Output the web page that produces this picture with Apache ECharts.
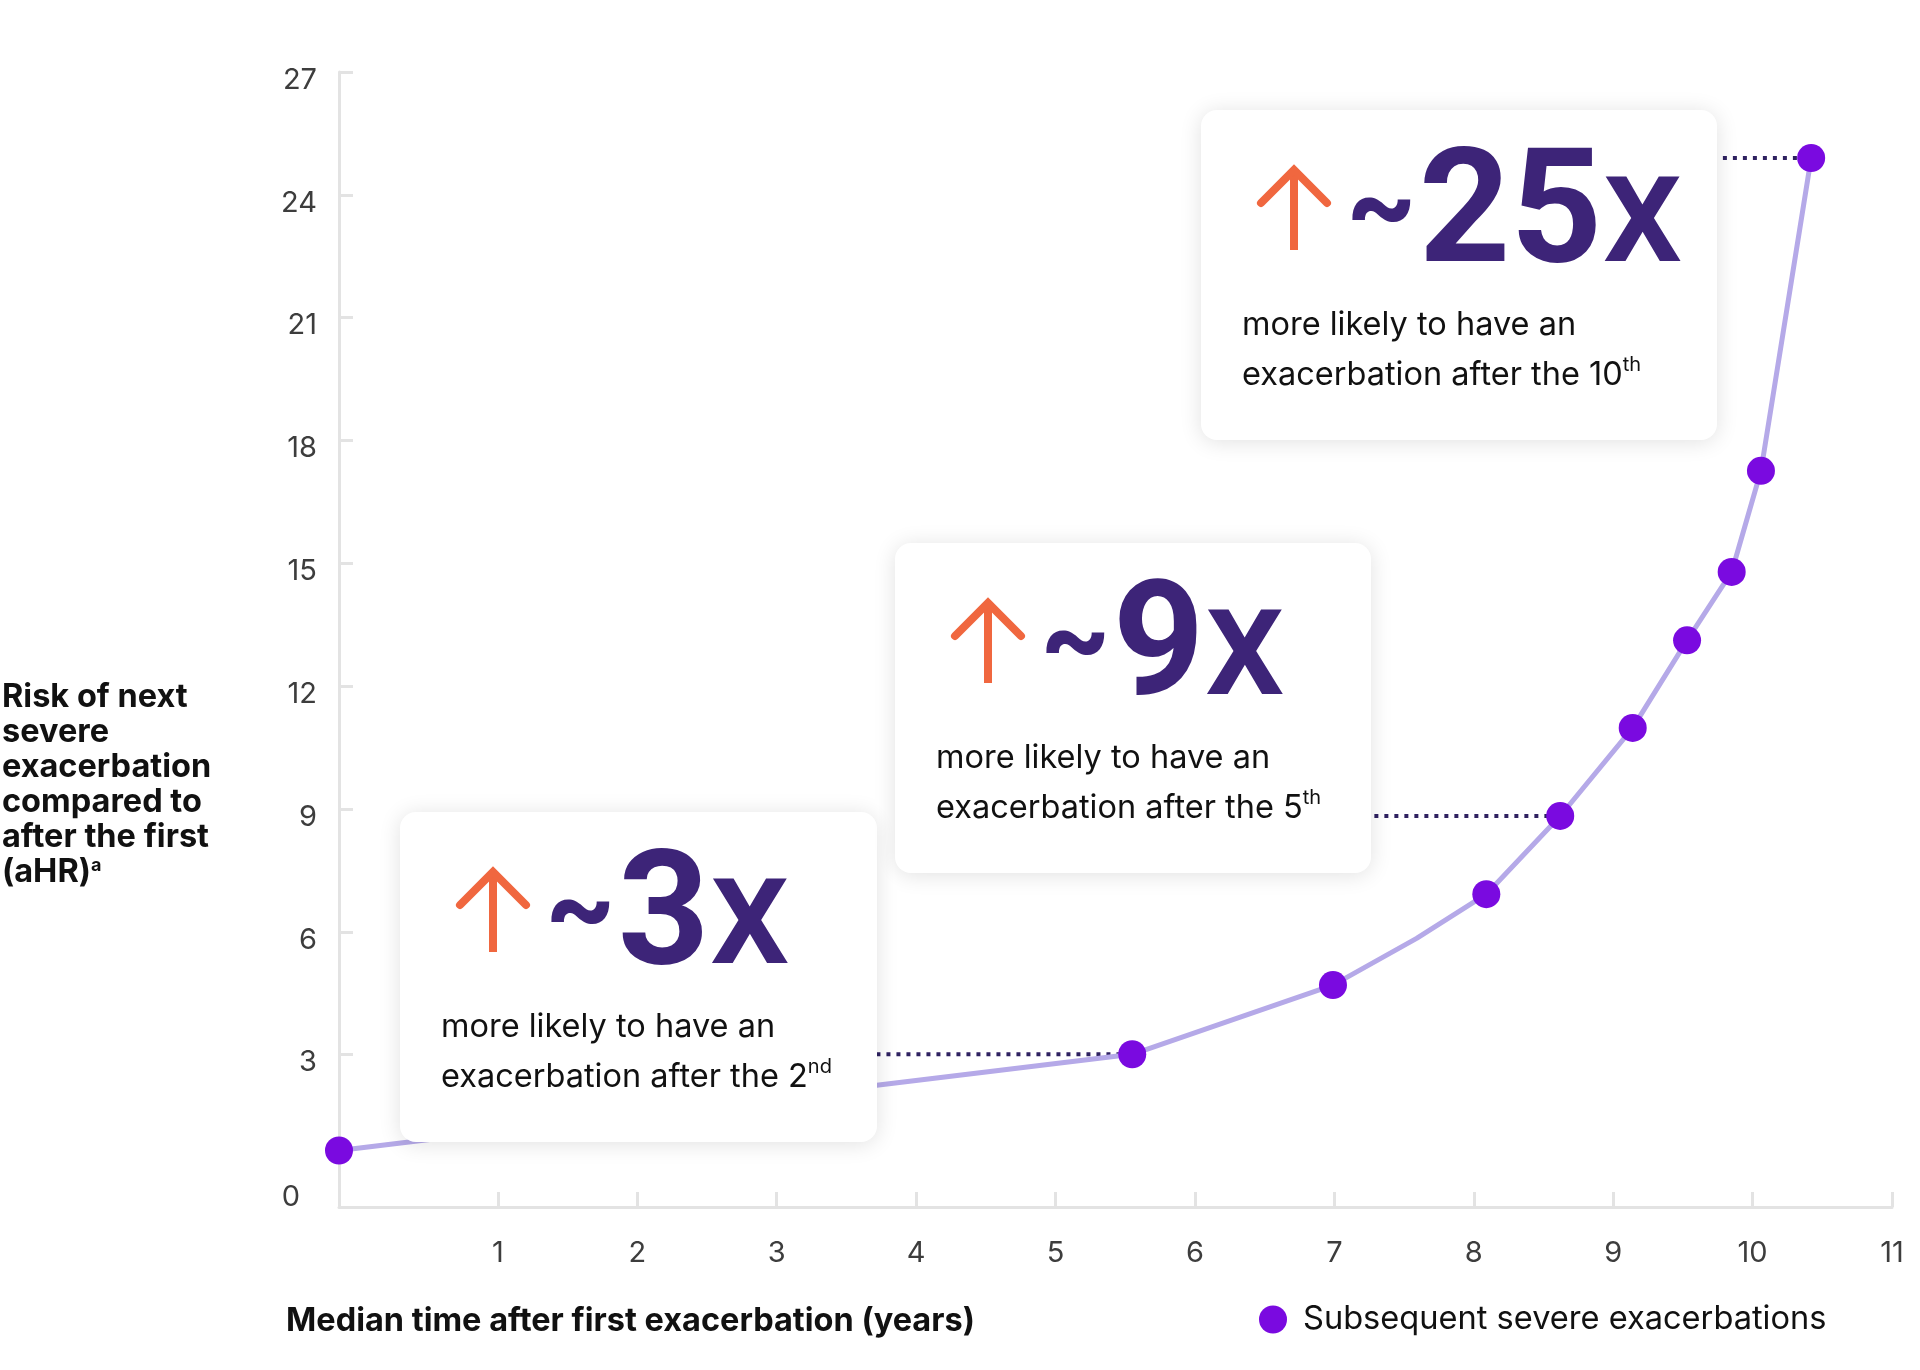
<!DOCTYPE html>
<html>
<head>
<meta charset="utf-8">
<script src="https://cdn.jsdelivr.net/npm/echarts@6/dist/echarts.min.js"></script>
<style>
    body {margin: 0; background: #fff;}
    #main_box {width: 1920px; height: 1370px;}
</style>
</head>
<body>
<div id="main_box"></div>
<script>
// exacerbation points: median years after first, aHR
let years = [-0.14, 5.55, 6.99, 7.59, 8.09, 8.62, 9.14, 9.53, 9.85, 10.06, 10.42];
let ahr = [0.66, 3.01, 4.70, 5.84, 6.92, 8.83, 10.98, 13.12, 14.79, 17.26, 24.9];
let hidden_vertex = [3];          // bend in the line with no marker
let x_ticks = [1, 2, 3, 4, 5, 6, 7, 8, 9, 10, 11];
let y_ticks = [3, 6, 9, 12, 15, 18, 21, 24, 27];
let y_labels = [0, 3, 6, 9, 12, 15, 18, 21, 24, 27];

// callouts: which point they point at, big number, ordinal
let callout_point = [1, 5, 10];
let callout_from = [3.5, 7.0, 9.5];
let callout_num = ['3', '9', '25'];
let callout_nth = ['2', '5', '10'];
let callout_sup = ['nd', 'th', 'th'];

let series_name = 'Subsequent severe exacerbations';

function make_callout(left, top, w, h, num, nth, sup) {
    return {
        type: 'group',
        left: left, top: top,
        children: [
            {
                type: 'rect', z: 100,
                shape: {x: 0, y: 0, width: w, height: h, r: 16},
                style: {fill: '#fff', shadowBlur: 22, shadowColor: 'rgba(0,0,0,0.12)', shadowOffsetY: 2}
            },
            {
                type: 'line', z: 101,
                shape: {x1: 93, y1: 62, x2: 93, y2: 140},
                style: {stroke: '#f0673f', lineWidth: 8}
            },
            {
                type: 'polyline', z: 101,
                shape: {points: [[60, 93], [93, 60], [126, 93]]},
                style: {stroke: '#f0673f', lineWidth: 8, lineCap: 'round', fill: null}
            },
            {
                type: 'text', z: 101,
                x: 143, y: 111,
                style: {
                    text: '{t|~}{n|' + num + '}{x|x}',
                    verticalAlign: 'middle',
                    rich: {
                        t: {fontFamily: 'Inter', fontWeight: 700, fontSize: 110, fill: '#3d2478', padding: [0, 0, 24, 0]},
                        n: {fontFamily: 'Roboto', fontWeight: 700, fontSize: 160, fill: '#3d2478'},
                        x: {fontFamily: 'Roboto', fontWeight: 500, fontSize: 160, fill: '#3d2478'}
                    }
                }
            },
            {
                type: 'text', z: 101,
                x: 41, y: 190,
                style: {
                    text: 'more likely to have an\nexacerbation after the ' + nth + '{s|' + sup + '}',
                    fontFamily: 'Inter', fontSize: 32.5, fill: '#111',
                    lineHeight: 50, verticalAlign: 'top',
                    rich: {
                        s: {fontFamily: 'Inter', fontSize: 20, fill: '#111', lineHeight: 50, padding: [0, 0, 20, 0]}
                    }
                }
            }
        ]
    };
}

function data_chart() {
    let points = years.map(function (x, i) {
        if (hidden_vertex.indexOf(i) >= 0) {
            return {value: [x, ahr[i]], symbol: 'none'};
        }
        return [x, ahr[i]];
    });

    let connectors = callout_point.map(function (p, i) {
        return {
            type: 'line',
            silent: true,
            z: 1,
            symbol: 'none',
            clip: false,
            lineStyle: {color: '#2e2160', width: 4, type: [4, 6]},
            data: [[callout_from[i], ahr[p]], [years[p], ahr[p]]]
        };
    });

    let chart_box = echarts.init(document.getElementById('main_box'));
    let option = {
        animation: false,
        grid: {left: 339, right: 28, top: 72, bottom: 163},
        legend: {
            data: [series_name],
            icon: 'circle',
            itemWidth: 50, itemHeight: 28,
            left: 1254, top: 1298,
            itemStyle: {color: '#7a0ae0'},
            textStyle: {fontFamily: 'Inter', fontSize: 32.6, color: '#111'}
        },
        xAxis: {
            type: 'value',
            min: -0.14, max: 11,
            axisLine: {show: true, onZero: false, lineStyle: {color: '#e3e3e3', width: 3}},
            axisTick: {show: true, inside: true, length: 15, customValues: x_ticks,
                lineStyle: {color: '#e3e3e3', width: 3}},
            axisLabel: {customValues: x_ticks, margin: 32,
                fontFamily: 'Inter', fontSize: 29, color: '#3d3d3d'},
            splitLine: {show: false}
        },
        yAxis: {
            type: 'value',
            min: -0.72, max: 27,
            axisLine: {show: true, onZero: false, lineStyle: {color: '#e3e3e3', width: 3}},
            axisTick: {show: true, inside: true, length: 14, customValues: y_ticks,
                lineStyle: {color: '#e3e3e3', width: 3}},
            axisLabel: {
                customValues: y_labels, margin: 22,
                fontFamily: 'Inter', fontSize: 29, color: '#3d3d3d',
                formatter: function (v) { return v === 0 ? '{z|0}' : '{n|' + v + '}'; },
                rich: {
                    n: {fontFamily: 'Inter', fontSize: 29, color: '#3d3d3d', padding: [16, 0, 0, 0]},
                    z: {fontFamily: 'Inter', fontSize: 29, color: '#3d3d3d', padding: [40, 17, 0, 0]}
                }
            },
            splitLine: {show: false}
        },
        graphic: [
            {
                type: 'text', left: 2, top: 680,
                style: {
                    text: 'Risk of next\nsevere\nexacerbation\ncompared to\nafter the first\n(aHR){a|a}',
                    fontFamily: 'Inter', fontWeight: 700, fontSize: 32.5, lineHeight: 35, fill: '#111',
                    rich: {a: {fontFamily: 'Inter', fontWeight: 700, fontSize: 18, fill: '#111', padding: [0, 0, 14, 0]}}
                }
            },
            {
                type: 'text', left: 286, top: 1305,
                style: {
                    text: 'Median time after first exacerbation (years)',
                    fontFamily: 'Inter', fontWeight: 700, fontSize: 32.5, fill: '#111'
                }
            },
            make_callout(400, 812, 477, 330, callout_num[0], callout_nth[0], callout_sup[0]),
            make_callout(895, 543, 476, 330, callout_num[1], callout_nth[1], callout_sup[1]),
            make_callout(1201, 110, 516, 330, callout_num[2], callout_nth[2], callout_sup[2])
        ],
        series: connectors.concat([
            {
                name: series_name,
                type: 'line',
                z: 3,
                clip: false,
                symbol: 'circle',
                symbolSize: 28,
                itemStyle: {color: '#7a0ae0'},
                lineStyle: {color: '#b5a9e8', width: 5},
                data: points
            }
        ])
    };
    chart_box.setOption(option);
    window.onresize = chart_box.resize;
}

data_chart();
</script>
</body>
</html>
